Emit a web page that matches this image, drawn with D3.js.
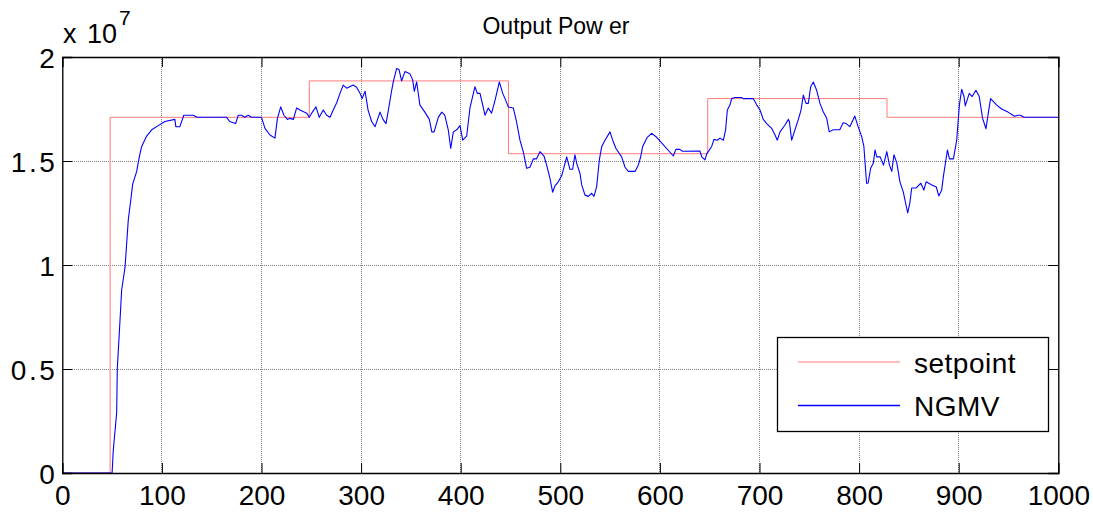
<!DOCTYPE html>
<html>
<head>
<meta charset="utf-8">
<script src="https://cdn.jsdelivr.net/npm/d3@7"></script>
<style>
  html, body { margin: 0; padding: 0; background: #fff; }
  svg { display: block; font-family: "Liberation Sans", Arial, sans-serif; }
</style>
</head>
<body>
<svg id="chart" width="1093" height="514"></svg>
<script>
// Output power (units of 1e7 W) over time steps
const xTicks = [0, 100, 200, 300, 400, 500, 600, 700, 800, 900, 1000];
const yTicks = [0, 0.5, 1, 1.5, 2];
const yTickLabels = ["0", "0.5", "1", "1.5", "2"];

// Setpoint: piecewise constant, level k holds from setpointTime[k] to setpointTime[k+1]
const setpointTime = [0, 48, 248, 448, 648, 828, 1000];
const setpointLevel = [0, 1.71, 1.885, 1.535, 1.80, 1.71];

// NGMV controller response
const ngmvTime = [0, 50, 51.2, 54.6, 55.2, 57.2, 59.6, 63, 66.3, 68.7, 70.7, 74.7, 77.3, 79.7, 84.7, 89.8, 96.4, 103, 113, 114, 118, 122, 131.5, 135, 165, 168, 174, 176.7, 180, 183, 186.7, 190, 200,
  203.5, 208.5, 213.5, 216, 219.3, 222.5, 226, 228.6, 232, 235.3, 238.6, 245.4, 248, 250.4, 254.7, 258, 262, 265.4, 268.8, 272, 275.5, 278.8, 282, 285.5, 292, 295.5, 299,
  301, 304, 307, 310.6, 314, 319, 322, 325, 327.4, 330.7, 332.3, 335.7, 338, 340.7, 344, 349, 351.8, 353.4, 355.8, 359, 364, 368.5, 371, 373.3, 377.5, 381, 384, 387.5, 390, 392.6, 396, 399.3,
  402, 406, 409.3, 414.3, 416.7, 419.4, 424.4, 427.7, 431, 434.4, 438.8, 442.2, 444.5, 447.8, 452.8, 456, 459.5, 462.8, 466.2, 469.5, 472.9, 476, 479.6, 483.6, 486.3, 489.6, 492.3, 494.6, 498,
  501.4, 503, 506.4, 509.7, 512.4, 514.7, 516.4, 519.8, 521.5, 524.8, 528.2, 531.5, 533.8, 536.5, 539.2, 541.6, 544.9, 549.9, 552.6, 555.9, 561.6, 565, 568.3, 575, 578.3, 580.7, 582.7, 587.3, 591.7, 596.8,
  613.5, 616, 620, 622.7, 640.2, 642, 645.3, 647, 652, 654.3, 657.7, 660.3, 663.7, 666, 667.7, 670.4, 672, 675.4, 682, 683.7, 693.7, 697.2,
  700.5, 703.8, 707.2, 712.2, 715.6, 717.9, 720.6, 725.6, 729, 730, 732.3, 735.6, 739, 741.7, 744, 746.7, 749, 751.4, 754, 757.4, 760.7, 764, 767.5, 770, 774, 780.6, 784, 787, 790.7, 795.7, 799,
  802.6, 804.8, 807.5, 809, 811.6, 814.3, 816, 817.7, 821.2, 824.5, 827.8, 830.5, 832.8, 835, 837.9, 841, 844.4, 848.8, 851, 852.8, 857, 862, 865, 867.3, 873, 877.5, 880, 882.9, 884.6, 888.7, 890.7, 894.7, 898,
  900.7, 903, 905.3, 906.6, 910.6, 913.5, 917.3, 920.6, 924, 927.4, 929.7, 932, 938, 943, 949.5, 956, 959.4, 962, 965.5, 1000];
const ngmvPower = [0, 0, 0.11, 0.29, 0.5, 0.67, 0.88, 0.99, 1.22, 1.31, 1.39, 1.45, 1.52, 1.57, 1.62, 1.65, 1.67, 1.69, 1.70, 1.665, 1.665, 1.72, 1.72, 1.71, 1.71, 1.69, 1.68, 1.72, 1.72, 1.71, 1.72, 1.71, 1.71,
  1.657, 1.625, 1.61, 1.705, 1.76, 1.72, 1.70, 1.705, 1.70, 1.755, 1.745, 1.73, 1.71, 1.73, 1.76, 1.71, 1.745, 1.72, 1.71, 1.745, 1.78, 1.825, 1.865, 1.85, 1.865, 1.855, 1.825,
  1.80, 1.835, 1.745, 1.69, 1.665, 1.735, 1.70, 1.68, 1.745, 1.84, 1.88, 1.945, 1.94, 1.885, 1.93, 1.92, 1.89, 1.835, 1.88, 1.77, 1.735, 1.70, 1.64, 1.64, 1.71, 1.735, 1.72, 1.65, 1.56, 1.64, 1.65, 1.67,
  1.60, 1.62, 1.755, 1.857, 1.825, 1.825, 1.72, 1.755, 1.73, 1.79, 1.88, 1.825, 1.80, 1.76, 1.755, 1.69, 1.60, 1.545, 1.465, 1.47, 1.51, 1.51, 1.545, 1.524, 1.48, 1.417, 1.35, 1.38, 1.40,
  1.43, 1.457, 1.52, 1.46, 1.46, 1.53, 1.49, 1.44, 1.385, 1.336, 1.33, 1.345, 1.33, 1.377, 1.505, 1.57, 1.60, 1.64, 1.60, 1.56, 1.52, 1.47, 1.45, 1.45, 1.48, 1.52, 1.57, 1.614, 1.633, 1.614,
  1.524, 1.556, 1.556, 1.547, 1.548, 1.52, 1.505, 1.534, 1.57, 1.604, 1.60, 1.61, 1.60, 1.65, 1.745, 1.77, 1.80, 1.805, 1.805, 1.80, 1.80, 1.77,
  1.745, 1.70, 1.68, 1.657, 1.625, 1.60, 1.64, 1.673, 1.70, 1.69, 1.60, 1.65, 1.70, 1.745, 1.817, 1.777, 1.777, 1.857, 1.88, 1.84, 1.777, 1.737, 1.705, 1.64, 1.65, 1.65, 1.684, 1.68, 1.665, 1.716, 1.665,
  1.617, 1.57, 1.393, 1.393, 1.465, 1.49, 1.553, 1.52, 1.52, 1.48, 1.545, 1.48, 1.45, 1.53, 1.49, 1.40, 1.35, 1.25, 1.30, 1.37, 1.37, 1.393, 1.36, 1.40, 1.385, 1.375, 1.332, 1.36, 1.425, 1.553, 1.51, 1.51, 1.60,
  1.77, 1.845, 1.81, 1.765, 1.825, 1.81, 1.84, 1.81, 1.705, 1.655, 1.73, 1.80, 1.77, 1.75, 1.735, 1.715, 1.72, 1.72, 1.71, 1.71];

const titleText = "Output Pow er";
const seriesNames = ["setpoint", "NGMV"];

const svg = d3.select("#chart");
const plotLeft = 62.3, plotRight = 1058.3, plotTop = 57, plotBottom = 473;

const x = d3.scaleLinear().domain([0, 1000]).range([plotLeft, plotRight]);
const y = d3.scaleLinear().domain([0, 2]).range([plotBottom, plotTop]);

// dotted grid
const grid = svg.append("g");
grid.selectAll("line.gx").data(xTicks).join("line")
  .attr("x1", d => x(d)).attr("x2", d => x(d))
  .attr("y1", plotTop).attr("y2", plotBottom)
  .attr("stroke", "#808080").attr("stroke-width", 1).attr("stroke-dasharray", "1,1")
  .attr("shape-rendering", "crispEdges");
grid.selectAll("line.gy").data(yTicks).join("line")
  .attr("x1", plotLeft).attr("x2", plotRight)
  .attr("y1", d => y(d)).attr("y2", d => y(d))
  .attr("stroke", "#808080").attr("stroke-width", 1).attr("stroke-dasharray", "1,1")
  .attr("shape-rendering", "crispEdges");

// setpoint steps
const spData = setpointTime.map((t, i) => ({ t, v: setpointLevel[Math.min(i, setpointLevel.length - 1)] }));
svg.append("path")
  .datum(spData)
  .attr("fill", "none")
  .attr("stroke", "#ff7a7a")
  .attr("stroke-width", 1)
  .attr("d", d3.line().x(d => x(d.t)).y(d => y(d.v)).curve(d3.curveStepAfter));

// NGMV response
const ngData = ngmvTime.map((t, i) => ({ t, v: ngmvPower[i] }));
svg.append("path")
  .datum(ngData)
  .attr("fill", "none")
  .attr("stroke", "#0000ff")
  .attr("stroke-width", 1.1)
  .attr("stroke-linejoin", "round")
  .attr("d", d3.line().x(d => x(d.t)).y(d => y(d.v)));

// axes: ticks point inward on all four sides
const tickLen = 10;
const axBottom = svg.append("g").attr("transform", `translate(0,${plotBottom})`)
  .call(d3.axisBottom(x).tickValues(xTicks).tickSize(-tickLen).tickPadding(12).tickFormat(d3.format("d")));
const axTop = svg.append("g").attr("transform", `translate(0,${plotTop})`)
  .call(d3.axisTop(x).tickValues(xTicks).tickSize(-tickLen).tickFormat(""));
const axLeft = svg.append("g").attr("transform", `translate(${plotLeft},0)`)
  .call(d3.axisLeft(y).tickValues(yTicks).tickSize(-tickLen).tickPadding(5).tickFormat((d, i) => yTickLabels[i]));
const axRight = svg.append("g").attr("transform", `translate(${plotRight},0)`)
  .call(d3.axisRight(y).tickValues(yTicks).tickSize(-tickLen).tickFormat(""));

[axBottom, axTop, axLeft, axRight].forEach(g => {
  g.select(".domain").attr("stroke", "#000").attr("stroke-width", 1.3);
  g.selectAll(".tick line").attr("stroke", "#000").attr("stroke-width", 1);
  g.selectAll("text").attr("fill", "#000").attr("font-size", 28)
    .attr("font-family", "'Liberation Sans', Arial, sans-serif");
});
axBottom.selectAll("text").attr("dy", "0.71em");
axLeft.selectAll("text").attr("dy", "0.36em").attr("letter-spacing", 2.5);

// title and exponent label
svg.append("text").attr("x", 556).attr("y", 34).attr("text-anchor", "middle")
  .attr("font-size", 23).text(titleText);
svg.append("text").attr("x", 63).attr("y", 43).attr("font-size", 27).attr("word-spacing", 3).text("x 10");
svg.append("text").attr("x", 119).attr("y", 25).attr("font-size", 21).text("7");

// legend
const lg = svg.append("g");
lg.append("rect").attr("x", 777.5).attr("y", 337.5).attr("width", 271).attr("height", 94)
  .attr("fill", "#fff").attr("stroke", "#000").attr("stroke-width", 1.3);
const legendColors = ["#ff7a7a", "#0000ff"];
const legendY = [362, 405.5];
seriesNames.forEach((name, i) => {
  lg.append("line").attr("x1", 798).attr("x2", 900).attr("y1", legendY[i]).attr("y2", legendY[i])
    .attr("stroke", legendColors[i]).attr("stroke-width", i ? 1.3 : 1);
  lg.append("text").attr("x", 914).attr("y", legendY[i] + 10.5).attr("font-size", 28).attr("letter-spacing", 0.5).text(name);
});
</script>
</body>
</html>
